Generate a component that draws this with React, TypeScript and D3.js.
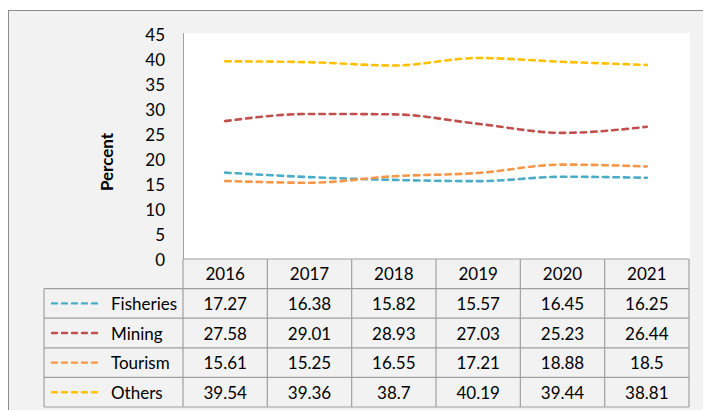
import React from "react";
import * as d3 from "d3";

const years = ["2016", "2017", "2018", "2019", "2020", "2021"];
const seriesNames = ["Fisheries", "Mining", "Tourism", "Others"];
const fisheries = [17.27, 16.38, 15.82, 15.57, 16.45, 16.25];
const mining = [27.58, 29.01, 28.93, 27.03, 25.23, 26.44];
const tourism = [15.61, 15.25, 16.55, 17.21, 18.88, 18.5];
const others = [39.54, 39.36, 38.7, 40.19, 39.44, 38.81];
const yTicks = [0, 5, 10, 15, 20, 25, 30, 35, 40, 45];
const colors = ["#4BACC6", "#C0504D", "#F79646", "#FFC000"];

const W = 703;
const H = 410;
const plotL = 183;
const plotR = 689;
const plotT = 34;
const plotB = 259;
const rowH = 29.6;
const legendL = 44;
const FONT = "Lato, 'Open Sans', sans-serif";
const FS = 17;
const grid = "#a0a0a0";

export default function App() {
  const seriesValues = [fisheries, mining, tourism, others];
  const x = d3.scaleBand<string>().domain(years).range([plotL, plotR]);
  const y = d3.scaleLinear().domain([0, 45]).range([plotB, plotT]);
  const line = d3
    .line<number>()
    .x((_, i) => (x(years[i]) as number) + x.bandwidth() / 2)
    .y((d) => y(d))
    .curve(d3.curveMonotoneX);

  const tableBottom = plotB + rowH * 5;

  return (
    <div style={{ position: "fixed", left: 0, top: 0 }}>
      <svg width={W} height={H} style={{ display: "block" }}>
        <rect x={8.5} y={10.5} width={W + 20} height={H + 20} fill="#f2f2f2" stroke="#8c8c8c" strokeWidth={1} />
        <rect x={plotL} y={33} width={690 - plotL} height={plotB - 33} fill="#ffffff" />
        <line x1={plotL + 0.5} x2={plotL + 0.5} y1={33} y2={plotB} stroke={grid} strokeWidth={1} />

        {yTicks.map((t) => (
          <text
            key={t}
            x={165}
            y={y(t)}
            textAnchor="end"
            dominantBaseline="central"
            fontFamily={FONT}
            fontSize={FS}
            fill="#000"
          >
            {t}
          </text>
        ))}

        <text
          transform={`translate(113, 162) rotate(-90)`}
          textAnchor="middle"
          fontFamily={FONT}
          fontSize={FS}
          fontWeight="bold"
          fill="#000"
        >
          Percent
        </text>

        {seriesValues.map((vals, i) => (
          <path
            key={seriesNames[i]}
            d={line(vals) || ""}
            fill="none"
            stroke={colors[i]}
            strokeWidth={2.6}
            strokeDasharray="5.5,5"
            strokeLinecap="round"
          />
        ))}

        {/* data table */}
        <g stroke={grid} strokeWidth={1.2} fill="none">
          <line x1={plotL} x2={plotR} y1={plotB} y2={plotB} />
          {[1, 2, 3, 4, 5].map((r) => (
            <line key={r} x1={legendL} x2={plotR} y1={plotB + r * rowH} y2={plotB + r * rowH} />
          ))}
          <line x1={legendL} x2={legendL} y1={plotB + rowH} y2={tableBottom} />
          {years.map((yr) => (
            <line key={yr} x1={x(yr) as number} x2={x(yr) as number} y1={plotB} y2={tableBottom} />
          ))}
          <line x1={plotR} x2={plotR} y1={plotB} y2={tableBottom} />
        </g>

        {years.map((yr) => (
          <text
            key={yr}
            x={(x(yr) as number) + x.bandwidth() / 2}
            y={plotB + rowH / 2}
            textAnchor="middle"
            dominantBaseline="central"
            fontFamily={FONT}
            fontSize={FS}
            fill="#000"
          >
            {yr}
          </text>
        ))}

        {seriesValues.map((vals, i) => {
          const cy = plotB + rowH * (i + 1) + rowH / 2;
          return (
            <g key={seriesNames[i]}>
              <line
                x1={52}
                x2={100}
                y1={cy}
                y2={cy}
                stroke={colors[i]}
                strokeWidth={2.4}
                strokeDasharray="5,5"
                strokeLinecap="round"
              />
              <text x={111} y={cy} dominantBaseline="central" fontFamily={FONT} fontSize={FS} fill="#000">
                {seriesNames[i]}
              </text>
              {vals.map((v, j) => (
                <text
                  key={j}
                  x={(x(years[j]) as number) + x.bandwidth() / 2}
                  y={cy}
                  textAnchor="middle"
                  dominantBaseline="central"
                  fontFamily={FONT}
                  fontSize={FS}
                  fill="#000"
                >
                  {String(v)}
                </text>
              ))}
            </g>
          );
        })}
      </svg>
    </div>
  );
}
